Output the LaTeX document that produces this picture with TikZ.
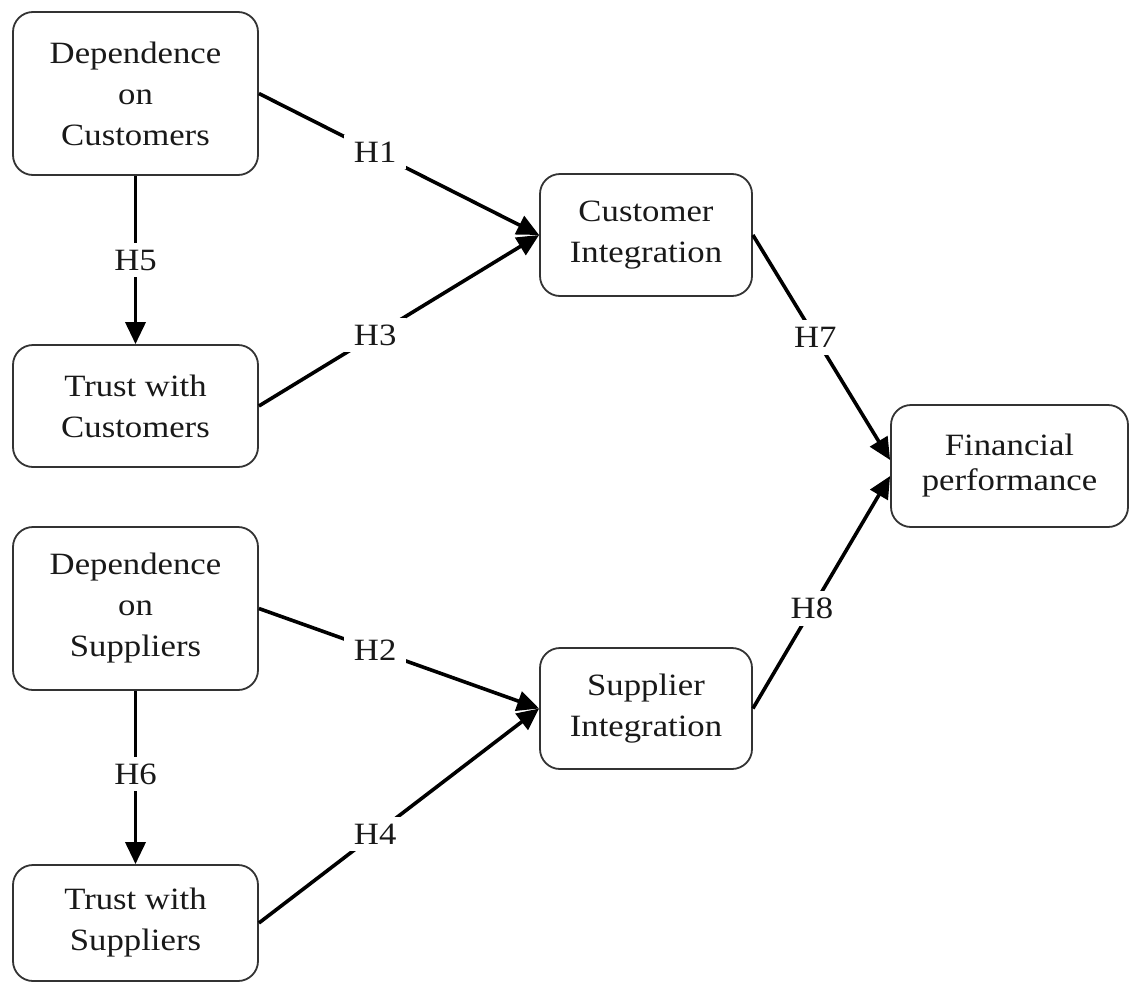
\documentclass[tikz,border=0pt]{standalone}
\usepackage{fontspec}
\setmainfont{Liberation Serif}[FakeStretch=1.12]
\usetikzlibrary{arrows.meta}
\begin{document}
\begin{tikzpicture}[x=1pt,y=-1pt,
  construct/.style={draw=black!80, line width=1.8pt, rounded corners=20pt, fill=white,
    align=center, text=black!90, font=\fontsize{31}{41}\selectfont, inner sep=0pt},
  link/.style={line width=3.6pt, black, -{Triangle[length=22pt,width=20pt]}},
  hyp/.style={fill=white, inner xsep=10pt, inner ysep=7pt, text=black!90,
    font=\fontsize{31}{37}\selectfont},
]
\useasboundingbox[fill=white] (0,0) rectangle (1130,983);

% antecedents (left column)
\node[construct, minimum width=245pt, minimum height=163pt] (dc) at (135.5,93.5)
  {Dependence\\on\\Customers};
\node[construct, minimum width=245pt, minimum height=122pt] (tc) at (135.5,406)
  {Trust with\\Customers};
\node[construct, minimum width=245pt, minimum height=163pt] (ds) at (135.5,608.5)
  {Dependence\\on\\Suppliers};
\node[construct, minimum width=245pt, minimum height=116pt] (ts) at (135.5,923)
  {Trust with\\Suppliers};

% integration constructs
\node[construct, minimum width=212pt, minimum height=122pt] (ci) at (646,235)
  {Customer\\Integration};
\node[construct, minimum width=212pt, minimum height=121pt] (si) at (646,708.5)
  {Supplier\\Integration};

% outcome
\node[construct, minimum width=237pt, minimum height=122pt,
  font=\fontsize{31}{35}\selectfont] (fp) at (1009.5,466)
  {Financial\\performance};

% hypothesised paths
\draw[link] (dc.east) -- node[hyp, pos=0.415] {H1} (ci.west);
\draw[link] (tc.east) -- node[hyp, pos=0.415] {H3} (ci.west);
\draw[link] (ds.east) -- node[hyp, pos=0.415] {H2} (si.west);
\draw[link] (ts.east) -- node[hyp, pos=0.415] {H4} (si.west);
\draw[link] (dc.south) -- node[hyp, pos=0.5] {H5} (tc.north);
\draw[link] (ds.south) -- node[hyp, pos=0.48] {H6} (ts.north);
\draw[link] (ci.east) -- node[hyp, pos=0.455] {H7} ([yshift=6pt]fp.west);
\draw[link] (si.east) -- node[hyp, pos=0.43] {H8} ([yshift=-10pt]fp.west);
\end{tikzpicture}
\end{document}
